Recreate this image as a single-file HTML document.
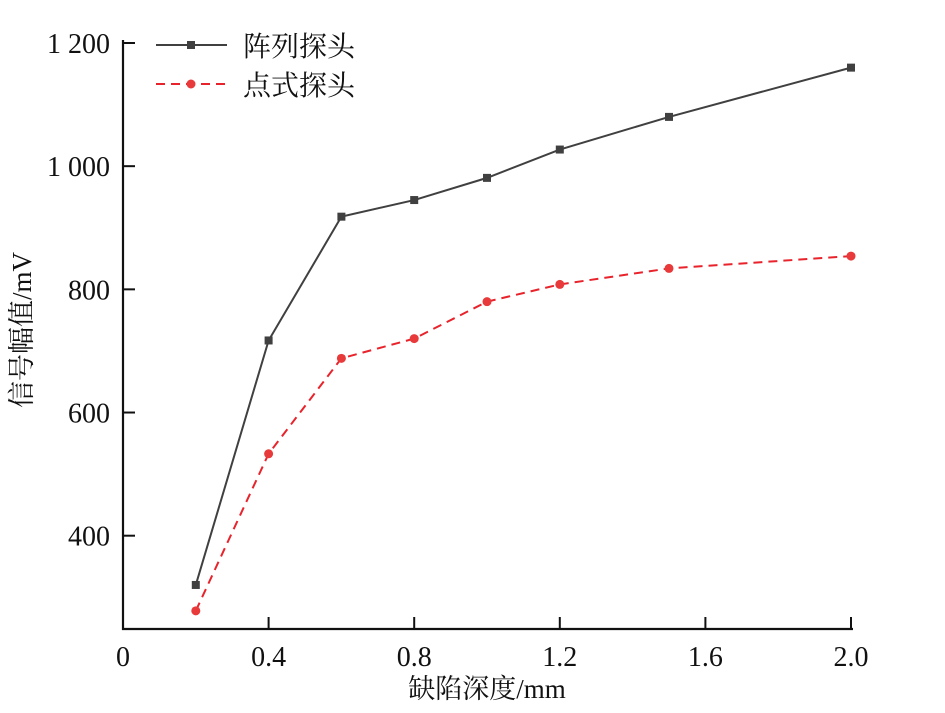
<!DOCTYPE html>
<html><head><meta charset="utf-8"><style>
body{margin:0;background:#fff}
svg text{font-family:"Liberation Serif","Noto Serif CJK SC",serif;fill:#111}
</style></head><body>
<svg id="chart" width="945" height="708" xmlns="http://www.w3.org/2000/svg">
<g id="axes"></g><g id="series"></g><g id="legend"></g>
</svg>
<script>
const xCats=[0.2,0.4,0.6,0.8,1.0,1.2,1.5,2.0];
const arrayVals=[320,717,918,945,981,1027,1080,1160];
const pointVals=[278,533,688,720,780,808,834,854];
const xTicks=[0,0.4,0.8,1.2,1.6,2.0];
const xTickLabels=["0","0.4","0.8","1.2","1.6","2.0"];
const yTicks=[400,600,800,1000,1200];
const yTickLabels=["400","600","800","1 000","1 200"];
const NS="http://www.w3.org/2000/svg";
const X0=123,X1=851,XMIN=0,XMAX=2.0,YB=629,YMIN=248.5,Y1200=43;
const sx=v=>X0+(v-XMIN)/(XMAX-XMIN)*(X1-X0);
const sy=v=>YB-(v-YMIN)/(1200-YMIN)*(YB-Y1200);
function mk(t,a,p){const e=document.createElementNS(NS,t);for(const k in a)e.setAttribute(k,a[k]);p.appendChild(e);return e;}
const axes=document.getElementById('axes');
let e=mk('path',{d:`M${X0} 40 V${YB} H${X1+2}`,stroke:'#111','stroke-width':2.2,fill:'none'},axes);


xTicks.forEach((v,i)=>{
 let t=mk('line',{x1:sx(v),x2:sx(v),y1:YB,y2:YB-12,stroke:'#111','stroke-width':2},axes);
 
 
 let l=mk('text',{x:sx(v),y:666,'text-anchor':'middle','font-size':28},axes);l.textContent=xTickLabels[i];
 
 
});
yTicks.forEach((v,i)=>{
 let t=mk('line',{x1:X0,x2:X0+12,y1:sy(v),y2:sy(v),stroke:'#111','stroke-width':2},axes);
 
 
 let l=mk('text',{x:110,y:sy(v)+10,'text-anchor':'end','font-size':28},axes);l.textContent=yTickLabels[i];
 
 
});
let xt=mk('text',{x:487,y:698,'text-anchor':'middle','font-size':27},axes);xt.textContent="缺陷深度/mm";


let yt=mk('text',{x:0,y:0,'text-anchor':'middle','font-size':27,transform:'translate(31,330) rotate(-90)'},axes);yt.textContent="信号幅值/mV";


const ser=document.getElementById('series');
let p1=mk('polyline',{points:xCats.map((x,i)=>sx(x)+','+sy(arrayVals[i])).join(' '),fill:'none',stroke:'#404040','stroke-width':2},ser);


xCats.forEach((x,i)=>{let r=mk('rect',{x:sx(x)-4,y:sy(arrayVals[i])-4,width:8,height:8,fill:'#404040'},ser);
 
 });
let p2=mk('polyline',{points:xCats.map((x,i)=>sx(x)+','+sy(pointVals[i])).join(' '),fill:'none',stroke:'#e8232b','stroke-width':2,'stroke-dasharray':'9 6'},ser);


xCats.forEach((x,i)=>{let c=mk('circle',{cx:sx(x),cy:sy(pointVals[i]),r:4.5,fill:'#e83a3a'},ser);
 
 });
const lg=document.getElementById('legend');
let a=mk('line',{x1:156,x2:227,y1:45,y2:45,stroke:'#404040','stroke-width':2},lg);


mk('rect',{x:187,y:41,width:8,height:8,fill:'#404040'},lg);
let at=mk('text',{x:243,y:56,'font-size':28},lg);at.textContent="阵列探头";


let b=mk('line',{x1:156,x2:227,y1:84,y2:84,stroke:'#e8232b','stroke-width':2,'stroke-dasharray':'9 6'},lg);


mk('circle',{cx:191,cy:84,r:4.5,fill:'#e83a3a'},lg);
let bt=mk('text',{x:243,y:95,'font-size':28},lg);bt.textContent="点式探头";


</script>
</body></html>
